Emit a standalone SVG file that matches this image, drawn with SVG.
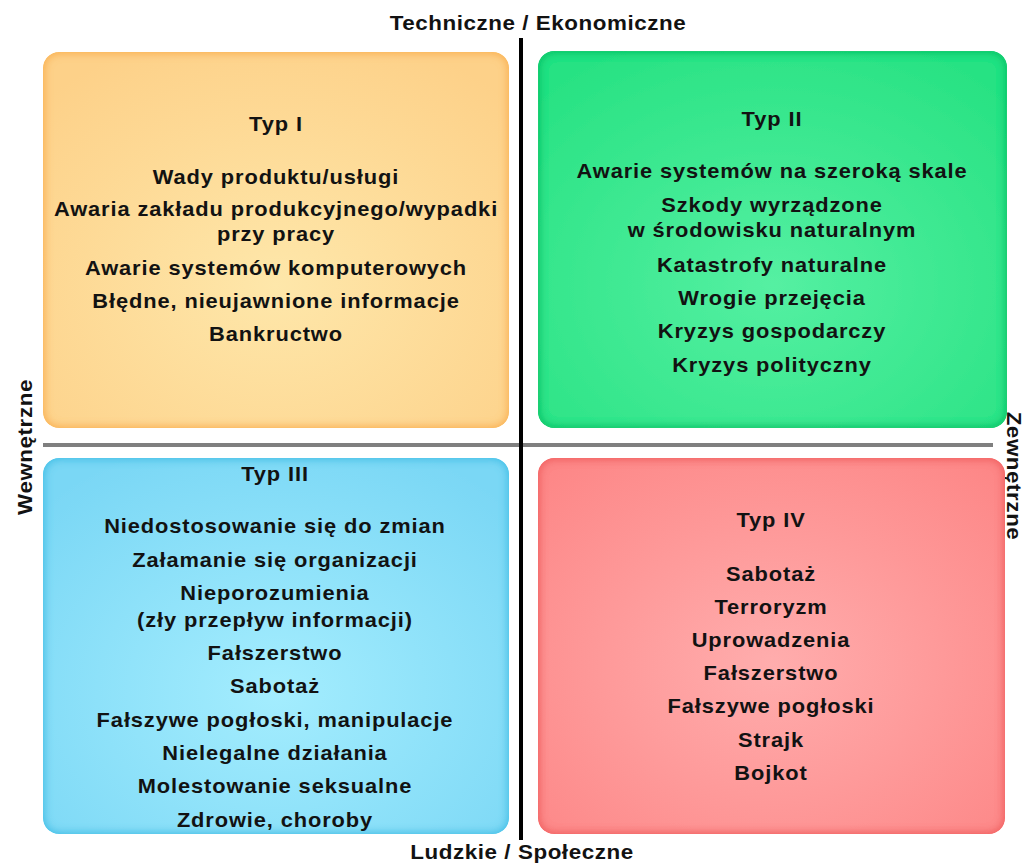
<svg xmlns="http://www.w3.org/2000/svg" width="1032" height="868" viewBox="0 0 1032 868">
  <defs>
    <style>
      text { font-family: "Liberation Sans", Arial, sans-serif; font-weight: bold; font-size: 19.5px; letter-spacing: 0.8px; fill: #121212; text-anchor: middle; }
      .axis { font-size: 20px; letter-spacing: 0.5px; }
    </style>
    <!-- quadrant fills: light centre, stronger towards the edges -->
    <radialGradient id="gOrange" cx="50%" cy="62%" r="70%">
      <stop offset="0" stop-color="#fee7aa"/>
      <stop offset="1" stop-color="#fdd189"/>
    </radialGradient>
    <radialGradient id="gGreen" cx="50%" cy="62%" r="70%">
      <stop offset="0" stop-color="#55f0a2"/>
      <stop offset="1" stop-color="#28e283"/>
    </radialGradient>
    <radialGradient id="gBlue" cx="50%" cy="62%" r="70%">
      <stop offset="0" stop-color="#a4edfe"/>
      <stop offset="1" stop-color="#7ad7f5"/>
    </radialGradient>
    <radialGradient id="gRed" cx="50%" cy="55%" r="70%">
      <stop offset="0" stop-color="#ffadad"/>
      <stop offset="1" stop-color="#fd8787"/>
    </radialGradient>
    <!-- inner glow along the rounded border -->
    <filter id="edgeOrange" x="0" y="0" width="1" height="1">
      <feGaussianBlur in="SourceAlpha" stdDeviation="5" result="b"/>
      <feComposite in="SourceAlpha" in2="b" operator="arithmetic" k2="1" k3="-1" result="e"/>
      <feFlood flood-color="#fbb454"/>
      <feComposite in2="e" operator="in" result="c"/>
      <feMerge><feMergeNode in="SourceGraphic"/><feMergeNode in="c"/><feMergeNode in="c"/></feMerge>
    </filter>
    <filter id="edgeGreen" x="0" y="0" width="1" height="1">
      <feGaussianBlur in="SourceAlpha" stdDeviation="5" result="b"/>
      <feComposite in="SourceAlpha" in2="b" operator="arithmetic" k2="1" k3="-1" result="e"/>
      <feFlood flood-color="#0fc468"/>
      <feComposite in2="e" operator="in" result="c"/>
      <feMerge><feMergeNode in="SourceGraphic"/><feMergeNode in="c"/><feMergeNode in="c"/></feMerge>
    </filter>
    <filter id="edgeBlue" x="0" y="0" width="1" height="1">
      <feGaussianBlur in="SourceAlpha" stdDeviation="5" result="b"/>
      <feComposite in="SourceAlpha" in2="b" operator="arithmetic" k2="1" k3="-1" result="e"/>
      <feFlood flood-color="#45c2e8"/>
      <feComposite in2="e" operator="in" result="c"/>
      <feMerge><feMergeNode in="SourceGraphic"/><feMergeNode in="c"/><feMergeNode in="c"/></feMerge>
    </filter>
    <filter id="edgeRed" x="0" y="0" width="1" height="1">
      <feGaussianBlur in="SourceAlpha" stdDeviation="5" result="b"/>
      <feComposite in="SourceAlpha" in2="b" operator="arithmetic" k2="1" k3="-1" result="e"/>
      <feFlood flood-color="#f26262"/>
      <feComposite in2="e" operator="in" result="c"/>
      <feMerge><feMergeNode in="SourceGraphic"/><feMergeNode in="c"/><feMergeNode in="c"/></feMerge>
    </filter>
  </defs>

  <rect width="1032" height="868" fill="#ffffff"/>

  <!-- axes -->
  <g id="axes">
    <line x1="43" y1="445" x2="993" y2="445" stroke="#7f7f7f" stroke-width="4"/>
    <line x1="521" y1="38" x2="521" y2="840" stroke="#000000" stroke-width="4"/>
  </g>

  <!-- axis labels (glyphs widened slightly) -->
  <g id="axis-labels">
    <text class="axis" transform="translate(538,30) scale(1.12,1)">Techniczne / Ekonomiczne</text>
    <text class="axis" transform="translate(522,859) scale(1.12,1)">Ludzkie / Społeczne</text>
    <text class="axis" transform="translate(32,447) rotate(-90) scale(1.12,1)">Wewnętrzne</text>
    <text class="axis" transform="translate(1007,476) rotate(90) scale(1.12,1)">Zewnętrzne</text>
  </g>

  <!-- Type I -->
  <g id="typ-1">
    <rect x="43" y="52" width="466" height="376" rx="16" fill="url(#gOrange)" filter="url(#edgeOrange)"/>
    <g transform="translate(276,0) scale(1.12,1)">
      <text x="0" y="131">Typ I</text>
      <text x="0" y="184">Wady produktu/usługi</text>
      <text x="0" y="216">Awaria zakładu produkcyjnego/wypadki</text>
      <text x="0" y="241">przy pracy</text>
      <text x="0" y="275">Awarie systemów komputerowych</text>
      <text x="0" y="308">Błędne, nieujawnione informacje</text>
      <text x="0" y="341">Bankructwo</text>
    </g>
  </g>

  <!-- Type II -->
  <g id="typ-2">
    <rect x="538" y="51" width="469" height="377" rx="16" fill="url(#gGreen)" filter="url(#edgeGreen)"/>
    <g transform="translate(772,0) scale(1.12,1)">
      <text x="0" y="126">Typ II</text>
      <text x="0" y="178">Awarie systemów na szeroką skale</text>
      <text x="0" y="212">Szkody wyrządzone</text>
      <text x="0" y="237">w środowisku naturalnym</text>
      <text x="0" y="272">Katastrofy naturalne</text>
      <text x="0" y="305">Wrogie przejęcia</text>
      <text x="0" y="338">Kryzys gospodarczy</text>
      <text x="0" y="372">Kryzys polityczny</text>
    </g>
  </g>

  <!-- Type III -->
  <g id="typ-3">
    <rect x="43" y="458" width="466" height="376" rx="16" fill="url(#gBlue)" filter="url(#edgeBlue)"/>
    <g transform="translate(275,0) scale(1.12,1)">
      <text x="0" y="481">Typ III</text>
      <text x="0" y="533">Niedostosowanie się do zmian</text>
      <text x="0" y="567">Załamanie się organizacji</text>
      <text x="0" y="600">Nieporozumienia</text>
      <text x="0" y="627">(zły przepływ informacji)</text>
      <text x="0" y="660">Fałszerstwo</text>
      <text x="0" y="693">Sabotaż</text>
      <text x="0" y="727">Fałszywe pogłoski, manipulacje</text>
      <text x="0" y="760">Nielegalne działania</text>
      <text x="0" y="793">Molestowanie seksualne</text>
      <text x="0" y="827">Zdrowie, choroby</text>
    </g>
  </g>

  <!-- Type IV -->
  <g id="typ-4">
    <rect x="538" y="458" width="467" height="376" rx="16" fill="url(#gRed)" filter="url(#edgeRed)"/>
    <g transform="translate(771,0) scale(1.12,1)">
      <text x="0" y="527">Typ IV</text>
      <text x="0" y="581">Sabotaż</text>
      <text x="0" y="614">Terroryzm</text>
      <text x="0" y="647">Uprowadzenia</text>
      <text x="0" y="680">Fałszerstwo</text>
      <text x="0" y="713">Fałszywe pogłoski</text>
      <text x="0" y="747">Strajk</text>
      <text x="0" y="780">Bojkot</text>
    </g>
  </g>
</svg>
